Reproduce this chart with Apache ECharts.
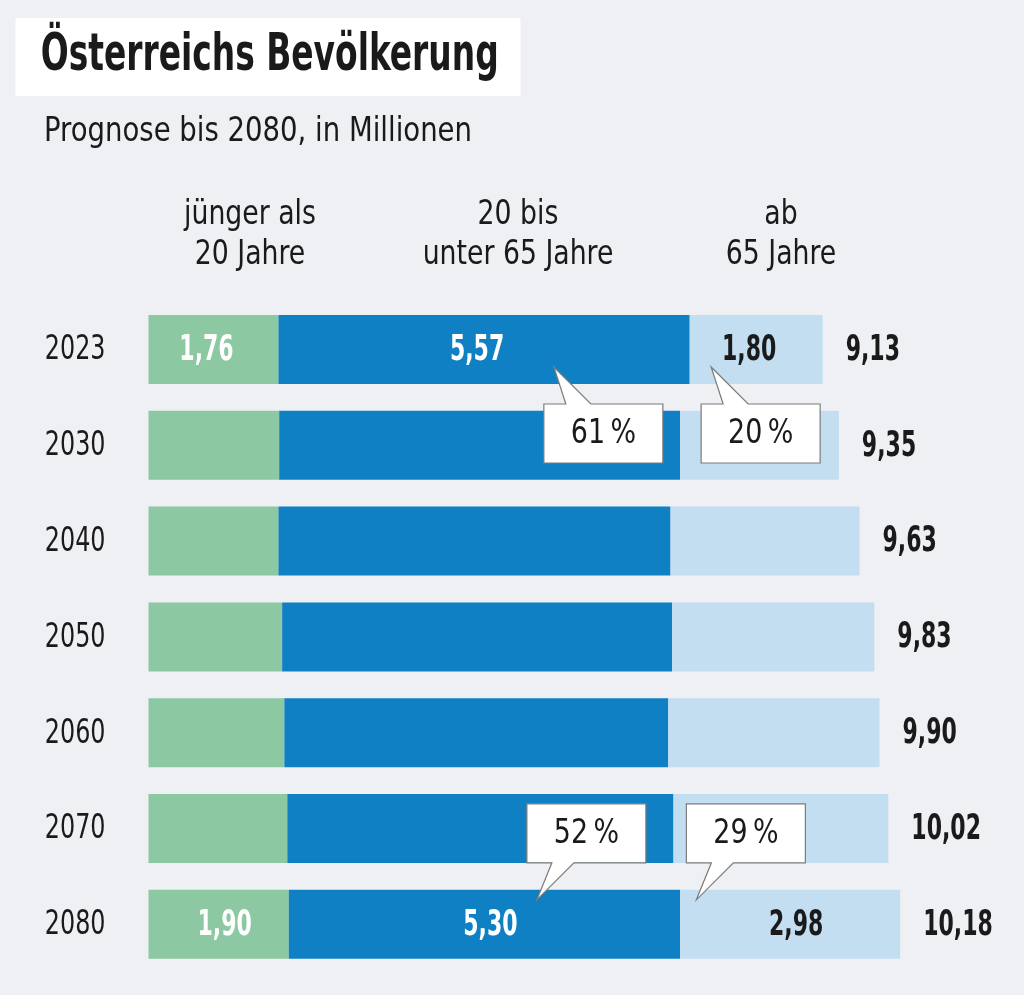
<!DOCTYPE html>
<html><head><meta charset="utf-8">
<script src="https://cdn.jsdelivr.net/npm/echarts@6/dist/echarts.min.js"></script>
<style>html,body{margin:0;padding:0;background:#eff0f4;} #c{width:1024px;height:995px;}</style>
</head><body><div id="c"></div>
<script>
// ---- data ----
const years = ['2023','2030','2040','2050','2060','2070','2080'];
const young = [1.76,1.77,1.76,1.81,1.84,1.88,1.90];
const middle = [5.57,5.43,5.31,5.28,5.20,5.23,5.30];
const old = [1.80,2.15,2.56,2.74,2.86,2.91,2.98];
const totals = [9.13,9.35,9.63,9.83,9.90,10.02,10.18];
const groupNames = ['jünger als\n20 Jahre','20 bis\nunter 65 Jahre','ab\n65 Jahre'];
const labelledYears = ['2023','2080'];
const titleText = 'Österreichs Bevölkerung';
const subtitleText = 'Prognose bis 2080, in Millionen';

// ---- style ----
const F = '"DejaVu Sans Condensed","Liberation Sans Narrow",sans-serif';
const INK = '#1a1a1a';
const colors = ['#8cc8a2','#1080c4','#c3def1'];
const labelColors = ['#ffffff','#ffffff',INK];
const labelShift = {'2023': -7, '2080': 6};
const fmt = v => v.toFixed(2).replace('.', ',');

// callouts: share of a segment, anchored at a value on a year's bar
const callouts = [
  {year:'2023', arr: middle, tip: 5.49, side:'below'},
  {year:'2023', arr: old,    tip: 7.62, side:'below'},
  {year:'2080', arr: middle, tip: 5.26, side:'above'},
  {year:'2080', arr: old,    tip: 7.42, side:'above'}
];

// label items: year names, segment values for labelled years, totals
const segs = [young, middle, old];
const labelItems = [];
years.forEach((y, i) => {
  labelItems.push({x: 0, y: i, text: y, color: INK, align: 'right', dx: -43, font: '34px ' + F, sx: 0.78});
  if (labelledYears.includes(y)) {
    let start = 0;
    segs.forEach((s, k) => {
      labelItems.push({x: start + s[i] / 2, y: i, text: fmt(s[i]), color: labelColors[k], align: 'center',
        dx: labelShift[y] || 0, font: 'bold 36px ' + F, sx: 0.68});
      start += s[i];
    });
  }
  labelItems.push({x: totals[i], y: i, text: fmt(totals[i]), color: INK, align: 'left', dx: 23,
    font: 'bold 36px ' + F, sx: 0.68});
});

const chart = echarts.init(document.getElementById('c'), null, {renderer:'canvas'});
const bar = (name, data, i) => ({
  name, type: 'bar', stack: 'pop', data, barWidth: 69,
  itemStyle: {color: colors[i]}, silent: true
});

chart.setOption({
  backgroundColor: '#eff0f4',
  animation: false,
  grid: {left: 148.5, top: 301.6, width: 812.2, height: 670.6},
  xAxis: {type: 'value', min: 0, max: 11, show: false},
  yAxis: {type: 'category', data: years, inverse: true,
    axisLine: {show: false}, axisTick: {show: false}, splitLine: {show: false},
    axisLabel: {show: false}},
  series: [
    bar(groupNames[0], young, 0),
    bar(groupNames[1], middle, 1),
    bar(groupNames[2], old, 2),
    {type: 'custom', silent: true, clip: false, z: 5,
     data: labelItems.map(it => [it.x, it.y]),
     encode: {x: 0, y: 1},
     renderItem: (params, api) => {
       const it = labelItems[params.dataIndex];
       const p = api.coord([api.value(0), api.value(1)]);
       return {type: 'text', x: p[0] + it.dx, y: p[1] + 1, scaleX: it.sx,
         style: {text: it.text, fill: it.color, font: it.font,
           textAlign: it.align, align: it.align, textVerticalAlign: 'middle', verticalAlign: 'middle'}};
     }}
  ]
});

// ---- annotations (graphic) ----
const ctx = document.createElement('canvas').getContext('2d');
function measure(text, size, weight) {
  ctx.font = (weight || 'normal') + ' ' + size + 'px ' + F;
  return ctx.measureText(text).width;
}
const titleSize = 52, subSize = 34, headSize = 33;
const titleScale = 458 / measure(titleText, titleSize, 'bold');
const subScale = 428 / measure(subtitleText, subSize);

const g = [];
g.push({type:'rect', shape:{x:15.5, y:18, width:505, height:78}, style:{fill:'#ffffff'}, z:10});
g.push({type:'text', x:40.7, y:56, scaleX: titleScale, z:11,
  style:{text: titleText, fill: INK, font: 'bold ' + titleSize + 'px ' + F, textVerticalAlign:'middle', textAlign:'left'}});
g.push({type:'text', x:44, y:132, scaleX: subScale, z:11,
  style:{text: subtitleText, fill: INK, font: subSize + 'px ' + F, textVerticalAlign:'middle', textAlign:'left'}});

const headCenters = [250, 518, 781];
groupNames.forEach((n, i) => {
  n.split('\n').forEach((line, j) => {
    g.push({type:'text', x: headCenters[i], y: 215 + j*40, scaleX: subScale, z:11,
      style:{text: line, fill: INK, font: headSize + 'px ' + F, textVerticalAlign:'middle', textAlign:'center'}});
  });
});

callouts.forEach(c => {
  const idx = years.indexOf(c.year);
  const center = chart.convertToPixel({gridIndex:0}, [c.tip, c.year]);
  const tx = center[0];
  const w = 119, h = 59;
  let pts, ty, rectTop;
  if (c.side === 'below') {
    ty = center[1] + 17.5;
    rectTop = ty + 37;
    const x0 = tx - 10, x1 = x0 + w, y0 = rectTop, y1 = rectTop + h;
    pts = [[x0,y0],[tx+12,y0],[tx,ty],[tx+37,y0],[x1,y0],[x1,y1],[x0,y1]];
  } else {
    ty = center[1] - 24.5;
    rectTop = ty - 37 - h;
    const x0 = tx - 10, x1 = x0 + w, y0 = rectTop, y1 = rectTop + h;
    pts = [[x0,y0],[x1,y0],[x1,y1],[tx+37,y1],[tx,ty],[tx+15,y1],[x0,y1]];
  }
  const pct = Math.round(c.arr[idx] / totals[idx] * 100);
  g.push({type:'polygon', shape:{points: pts}, style:{fill:'#ffffff', stroke:'#7b7b7b', lineWidth:1.2}, z:20});
  g.push({type:'text', x: tx - 10 + w/2, y: rectTop + h/2 + 1, scaleX: 0.88, z:21,
    style:{text: pct + '\u2009%', fill: INK, font: '34px ' + F, textAlign:'center', textVerticalAlign:'middle'}});
});

chart.setOption({graphic: g});
</script>
</body></html>
